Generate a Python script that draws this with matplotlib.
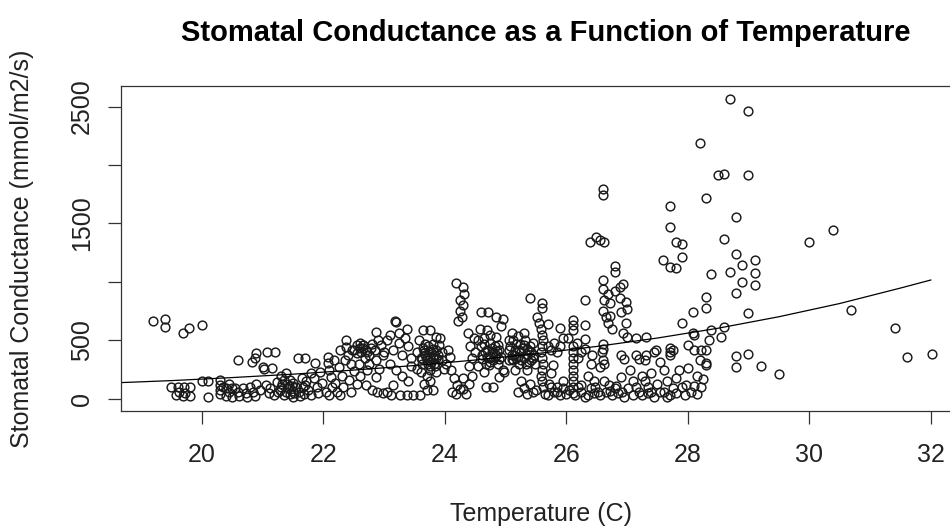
import matplotlib
matplotlib.use("Agg")
import matplotlib.pyplot as plt

plt.rcParams['font.family'] = ['Liberation Sans', 'DejaVu Sans']

temp_19 = [19.20, 19.40, 19.40, 19.69, 19.79, 20.00, 19.50, 19.60, 19.70, 19.80, 19.62, 19.72, 19.69, 19.80, 19.58]
cond_19 = [669, 681, 613, 567, 604, 630, 105, 100, 100, 100, 60, 55, 28, 28, 30]

temp_20 = [20.00, 20.10, 20.10, 20.30, 20.30, 20.30, 20.30, 20.35, 20.40, 20.40, 20.45, 20.50, 20.50, 20.45,
           20.60, 20.82, 20.55, 20.60, 20.62, 20.68, 20.72, 20.75, 20.80, 20.85, 20.88, 20.90, 20.90, 20.87, 20.95]
cond_20 = [156, 156, 14, 160, 120, 77, 40, 100, 95, 25, 60, 95, 20, 130,
           333, 319, 95, 60, 25, 95, 55, 20, 100, 60, 25, 130, 390, 348, 80]

temp_21 = [21.00, 21.02, 21.07, 21.20, 21.15, 21.05, 21.10, 21.12, 21.18, 21.23, 21.25, 21.30, 21.30, 21.35,
           21.39, 21.40, 21.42, 21.45, 21.45, 21.48, 21.50, 21.50, 21.50, 21.35,
           21.58, 21.70, 21.66, 21.70, 21.72, 21.55, 21.60, 21.62, 21.68, 21.75, 21.80, 21.86, 21.85, 21.90,
           21.92, 21.95, 21.98, 21.80, 21.65, 21.28, 21.32, 21.38, 21.44, 21.52]
cond_21 = [276, 260, 404, 404, 265, 120, 50, 90, 30, 148, 60, 200, 100, 30,
           219, 130, 90, 160, 40, 110, 137, 70, 20, 160,
           348, 348, 105, 120, 150, 100, 60, 25, 40, 80, 30, 305, 180, 100,
           50, 230, 140, 220, 180, 80, 130, 60, 110, 50]

temp_22 = [22.08, 22.08, 22.10, 22.12, 22.05, 22.10, 22.15, 22.20, 22.22, 22.25, 22.27, 22.38, 22.38, 22.35,
           22.30, 22.32, 22.40, 22.45, 22.48, 22.42, 22.45, 22.50, 22.18, 22.28,
           22.55, 22.60, 22.65, 22.65, 22.62, 22.70, 22.68, 22.58, 22.72, 22.75, 22.80, 22.87, 22.90, 22.87,
           22.87, 22.85, 22.95, 22.98, 22.70, 22.80, 22.88, 22.98, 22.60, 22.75, 22.92, 22.55,
           22.50, 22.55, 22.60, 22.66, 22.72, 22.78]
cond_22 = [362, 305, 250, 190, 60, 30, 100, 140, 60, 270, 419, 504, 447, 330,
           200, 100, 380, 300, 419, 160, 60, 240, 330, 30,
           460, 480, 462, 440, 400, 420, 350, 300, 250, 380, 470, 575, 504, 333,
           190, 420, 460, 380, 120, 77, 62, 48, 200, 300, 260, 130,
           420, 390, 440, 460, 400, 440]

temp_23 = [23.10, 23.20, 23.18, 23.05, 23.15, 23.25, 23.30, 23.10, 23.20, 23.35, 23.40, 23.45, 23.30, 23.05,
           23.12, 23.26, 23.37, 23.48, 23.45, 23.38, 23.25, 23.00, 23.40, 23.15,
           23.59, 23.70, 23.80, 23.64, 23.75, 23.55, 23.60, 23.62, 23.65, 23.68, 23.70, 23.72, 23.75, 23.78,
           23.80, 23.82, 23.85, 23.88, 23.90, 23.92, 23.95, 23.98, 23.60, 23.70, 23.85, 23.75, 23.58, 23.85,
           23.95, 23.65, 23.55, 23.80,
           23.62, 23.66, 23.70, 23.74, 23.78, 23.82, 23.86, 23.64, 23.72, 23.80, 23.88, 23.68, 23.76, 23.84]
cond_23 = [547, 661, 667, 500, 420, 480, 380, 300, 250, 520, 450, 350, 200, 60,
           30, 34, 34, 34, 280, 600, 560, 400, 150, 120,
           34, 77, 77, 590, 590, 400, 350, 300, 420, 380, 330, 450, 280, 400,
           350, 300, 420, 380, 460, 521, 330, 260, 230, 200, 230, 150, 500, 530,
           400, 130, 260, 470,
           340, 390, 360, 410, 320, 380, 350, 440, 300, 430, 340, 470, 250, 280]

temp_24 = [24.08, 24.05, 24.02, 24.19, 24.30, 24.32, 24.25, 24.30, 24.25, 24.28, 24.22, 24.15, 24.20, 24.25,
           24.30, 24.30, 24.35, 24.40, 24.12, 24.45, 24.42, 24.48, 24.40, 24.50, 24.45, 24.10, 24.38, 24.18,
           24.60, 24.71, 24.85, 24.95, 24.92, 24.55, 24.60, 24.62, 24.65, 24.68, 24.70, 24.72, 24.75, 24.78,
           24.80, 24.82, 24.85, 24.88, 24.90, 24.92, 24.95, 24.98, 24.90, 24.68, 24.79, 24.55, 24.75, 24.65,
           24.85, 24.58, 24.70,
           24.62, 24.66, 24.70, 24.74, 24.78, 24.82, 24.86, 24.90, 24.64, 24.72, 24.80, 24.88]
cond_24 = [362, 420, 300, 989, 960, 900, 850, 800, 750, 700, 670, 180, 120, 85,
           180, 85, 40, 130, 60, 350, 450, 520, 280, 400, 200, 250, 560, 40,
           746, 746, 700, 680, 620, 500, 450, 380, 520, 300, 420, 350, 480, 400,
           330, 450, 380, 300, 420, 360, 250, 230, 190, 105, 105, 280, 550, 230,
           530, 600, 590,
           340, 400, 360, 320, 440, 360, 410, 340, 470, 290, 390, 460]

temp_25 = [25.40, 25.05, 25.08, 25.10, 25.12, 25.15, 25.18, 25.20, 25.22, 25.25, 25.28, 25.30, 25.32, 25.35,
           25.38, 25.40, 25.42, 25.45, 25.48, 25.10, 25.20, 25.30, 25.25, 25.30, 25.35, 25.40, 25.45, 25.20,
           25.15, 25.35, 25.05, 25.45,
           25.60, 25.60, 25.52, 25.55, 25.58, 25.60, 25.62, 25.60, 25.58, 25.60, 25.62, 25.60, 25.58, 25.60,
           25.62, 25.65, 25.70, 25.75, 25.80, 25.78, 25.89, 25.85, 25.90, 25.72, 25.80, 25.85, 25.90, 25.95,
           25.70, 25.95, 25.75,
           25.06, 25.10, 25.14, 25.18, 25.22, 25.26, 25.30, 25.34, 25.38, 25.42, 25.12, 25.24, 25.36, 25.46,
           25.50, 25.70, 25.75, 25.85, 25.95, 26.00, 26.25, 26.30]
cond_25 = [860, 500, 450, 380, 330, 420, 470, 360, 300, 400, 440, 350, 500, 380,
           320, 450, 400, 350, 300, 560, 540, 560, 150, 90, 40, 130, 60, 60,
           250, 250, 330, 480,
           823, 775, 700, 650, 600, 550, 500, 450, 400, 350, 300, 250, 200, 150,
           100, 40, 450, 420, 480, 290, 604, 400, 450, 130, 60, 100, 30, 150,
           640, 520, 220,
           420, 340, 380, 350, 420, 330, 460, 300, 410, 330, 500, 470, 430, 380,
           80, 30, 100, 60, 90, 40, 120, 20]

temp_26 = [26.03, 26.11, 26.11, 26.11, 26.30, 26.30, 26.30, 26.30, 26.11, 26.11, 26.11, 26.11, 26.11, 26.11,
           26.11, 26.11, 26.11, 26.05, 26.15, 26.20, 26.25, 26.35, 26.40, 26.45, 26.20, 26.25, 26.40, 26.35,
           26.45, 26.39, 26.49, 26.18, 26.42,
           26.55, 26.62, 26.60, 26.60, 26.60, 26.80, 26.80, 26.60, 26.68, 26.80, 26.88, 26.93, 26.62, 26.72,
           26.88, 26.98, 27.00, 26.60, 26.65, 26.72, 26.90, 26.98, 26.60, 26.60, 26.58, 26.60, 26.62, 26.55,
           26.93, 27.00, 26.90, 26.95, 26.90, 26.55, 26.65, 26.75, 26.85, 26.95, 26.70, 26.80, 26.68, 26.75,
           26.48, 26.52, 26.62, 26.72, 26.82, 26.92, 27.02]
cond_26 = [519, 675, 632, 590, 846, 632, 513, 430, 450, 400, 350, 300, 250, 200,
           150, 100, 50, 80, 30, 100, 60, 30, 90, 50, 350, 400, 300, 200,
           150, 1342, 1385, 480, 380,
           1359, 1342, 1795, 1744, 1017, 1137, 1088, 940, 900, 920, 960, 980, 850, 820,
           860, 830, 770, 750, 700, 710, 740, 650, 470, 430, 400, 330, 300, 270,
           564, 532, 380, 340, 190, 30, 60, 30, 50, 20, 120, 90, 650, 600,
           100, 60, 150, 70, 110, 60, 90]

temp_27 = [27.15, 27.32, 27.15, 27.20, 27.30, 27.05, 27.10, 27.15, 27.20, 27.25, 27.30, 27.35, 27.40, 27.45,
           27.32, 27.45, 27.40, 27.10, 27.25, 27.35, 27.48, 27.50,
           27.59, 27.70, 27.80, 27.90, 27.70, 27.70, 27.80, 27.90, 27.90, 27.70, 27.76, 27.70, 27.70, 27.81,
           27.60, 27.55, 27.65, 27.60, 27.70, 27.75, 27.80, 27.90, 27.95, 27.85, 27.55, 27.65]
cond_27 = [518, 532, 380, 340, 330, 250, 150, 100, 60, 30, 150, 100, 60, 20,
           380, 400, 220, 30, 200, 50, 419, 130,
           1188, 1131, 1117, 1216, 1652, 1473, 1344, 1322, 647, 433, 419, 404, 376, 176,
           250, 320, 150, 60, 30, 90, 50, 100, 30, 250, 60, 20]

temp_28 = [28.09, 28.09, 28.11, 28.00, 28.00, 28.30, 28.30, 28.11, 28.22, 28.30, 27.97, 28.10, 28.22, 28.05,
           28.15, 28.25, 28.30, 28.30, 28.20, 28.30, 28.39, 28.39, 28.35, 28.20, 28.15,
           28.70, 28.99, 28.50, 28.60, 28.99, 28.80, 28.60, 28.80, 28.90, 29.10, 29.10, 29.10, 28.69, 28.90,
           28.80, 28.99, 28.60, 28.55, 28.80, 28.99, 28.80, 29.20, 29.50]
cond_28 = [746, 561, 547, 462, 262, 305, 290, 419, 419, 419, 120, 110, 100, 60,
           40, 170, 869, 775, 2191, 1721, 1068, 590, 500, 330, 200,
           2564, 2462, 1915, 1923, 1915, 1553, 1368, 1239, 1145, 1188, 1074, 977, 1088, 1003,
           909, 738, 613, 530, 367, 385, 271, 282, 214]

temp_30 = [30.00, 30.39, 30.69, 31.41, 31.61, 32.02]
cond_30 = [1344, 1444, 761, 604, 362, 385]

# fitted curve as drawn, read at each degree
fit_temp = [18.67, 19.5, 20.5, 21.5, 22.5, 23.5, 24.5, 25.5, 26.5, 27.5, 28.5, 29.5, 30.5, 31.5, 32.0]
fit_cond = [140, 157, 183, 212, 247, 286, 333, 387, 449, 521, 605, 703, 816, 948, 1017]

temps = temp_19 + temp_20 + temp_21 + temp_22 + temp_23 + temp_24 + temp_25 + temp_26 + temp_27 + temp_28 + temp_30
conds = cond_19 + cond_20 + cond_21 + cond_22 + cond_23 + cond_24 + cond_25 + cond_26 + cond_27 + cond_28 + cond_30

fig = plt.figure(figsize=(9.5, 5.28), dpi=100)
ax = fig.add_axes([0.1274, 0.2222, 0.885, 0.6142])

ax.plot(temps, conds, 'o', ms=6.3, mfc='none', mec='#1a1a1a', mew=1.05)
ax.plot(fit_temp, fit_cond, '-', color='black', lw=0.9)

ax.set_xlim(18.67, 32.51)
ax.set_ylim(-100, 2672)
ax.set_xticks([20, 22, 24, 26, 28, 30, 32])
ax.set_yticks([0, 500, 1000, 1500, 2000, 2500])
ax.set_yticklabels(['0', '500', '', '1500', '', '2500'])
ax.tick_params(axis='both', direction='out', length=9.5, width=0.9, labelsize=18,
               color='#333333', labelcolor='#222222')
ax.tick_params(axis='x', pad=14)
ax.tick_params(axis='y', pad=10)
for lab in ax.get_yticklabels():
    lab.set_rotation(90)
    lab.set_va('center')
for sp in ax.spines.values():
    sp.set_linewidth(0.9)
    sp.set_color('#333333')

fig.text(0.57, 0.0133, 'Temperature (C)', ha='center', va='baseline', fontsize=18, color='#222222')
fig.text(22.5 / 950, 0.529, 'Stomatal Conductance (mmol/m2/s)', rotation=90, ha='center', va='center',
         fontsize=18, color='#222222')
fig.text(0.574, 0.9375, 'Stomatal Conductance as a Function of Temperature', ha='center', va='center',
         fontsize=21, fontweight='bold')

plt.savefig('out.png', dpi=100)
